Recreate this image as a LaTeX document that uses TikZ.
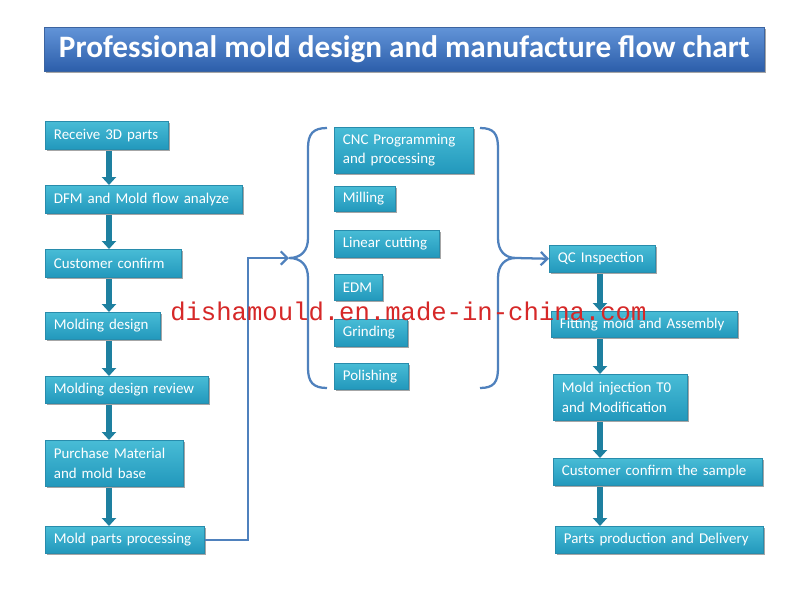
\documentclass[tikz,border=0pt]{standalone}
\usepackage{fontspec}
\setmainfont{Carlito}
\newfontfamily\wmfont{Liberation Mono}
\usetikzlibrary{shadows,arrows.meta}
\definecolor{boxtop}{RGB}{72,188,214}
\definecolor{boxbot}{RGB}{34,152,188}
\definecolor{boxedge}{RGB}{40,140,172}
\definecolor{arrteal}{RGB}{30,128,160}
\definecolor{connblue}{RGB}{79,129,189}
\definecolor{titletop}{RGB}{98,148,216}
\definecolor{titlebot}{RGB}{44,94,170}
\definecolor{wmred}{RGB}{214,40,40}
\tikzset{
  box/.style={rectangle, top color=boxtop, bottom color=boxbot, draw=boxedge, line width=0.4pt,
    drop shadow={shadow xshift=1.6pt, shadow yshift=-1.6pt, fill=black, opacity=0.35},
    text=white, align=left, inner xsep=6.5pt, inner ysep=0pt,
    font=\fontsize{11.2}{14.4}\selectfont},
  varrow/.style={draw=arrteal, line width=3.8pt, -{Triangle[width=10.5pt,length=6pt]}},
  conn/.style={draw=connblue, line width=1.7pt},
  brace/.style={draw=connblue, line width=1.7pt},
}
\newcommand\flowbox[6]{%
  \pgfmathsetmacro\tw{(#4-#2)*0.75-13}%
  \pgfmathsetmacro\bh{(#5-#3)*0.75}%
  \node[box, text width=\tw pt, minimum height=\bh pt, anchor=north west] (#1) at (#2,#3) {#6};}
\begin{document}
\begin{tikzpicture}[x=0.75pt,y=-0.75pt]
\useasboundingbox[fill=white] (0,0) rectangle (800,593);
% title
\node[rectangle, anchor=north west, minimum width=540pt, minimum height=33pt,
  top color=titletop, bottom color=titlebot, draw={rgb,255:red,60;green,100;blue,160},
  drop shadow={shadow xshift=1.6pt, shadow yshift=-1.6pt, fill=black, opacity=0.35},
  text=white, font=\fontsize{23.4}{26}\selectfont\bfseries] (title) at (44,27)
  {Professional mold design and manufacture flow chart};
% left column
\flowbox{b1}{45}{121}{168}{149}{Receive 3D parts}
\flowbox{b2}{45}{185}{242}{213}{DFM and Mold flow analyze}
\flowbox{b3}{45}{249}{181}{277}{Customer confirm}
\flowbox{b4}{45}{312}{160}{339}{Molding design}
\flowbox{b5}{45}{376}{208}{403}{Molding design review}
\flowbox{b6}{45}{440}{183}{486}{Purchase Material\\and mold base}
\flowbox{b7}{45}{526}{204}{553}{Mold parts processing}
% middle column
\flowbox{m1}{334}{127}{473}{173}{CNC Programming\\and processing}
\flowbox{m2}{334}{186}{395}{211}{Milling}
\flowbox{m3}{334}{230}{439}{257}{Linear cutting}
\flowbox{m4}{334}{274}{382}{300}{EDM}
\flowbox{m5}{334}{319}{407}{346}{Grinding}
\flowbox{m6}{334}{363}{408}{389}{Polishing}
% right column
\flowbox{r1}{549}{245}{655}{272}{QC Inspection}
\flowbox{r2}{551}{311}{737}{337}{Fitting mold and Assembly}
\flowbox{r3}{553}{374}{687}{420}{Mold injection  T0\\and Modification}
\flowbox{r4}{553}{458}{762}{485}{Customer confirm the sample}
\flowbox{r5}{555}{526}{763}{553}{Parts production and Delivery}
% vertical arrows
\coordinate (lx) at (109,0);
\coordinate (rx) at (600,0);
\foreach \a/\b in {b1/b2,b2/b3,b3/b4,b4/b5,b5/b6,b6/b7}
  \draw[varrow] ([yshift=-1pt]\a.south -| lx) -- (\b.north -| lx);
\foreach \a/\b in {r1/r2,r2/r3,r3/r4,r4/r5}
  \draw[varrow] ([yshift=-1pt]\a.south -| rx) -- (\b.north -| rx);
% braces
\coordinate (lbtip) at (289,258);
\coordinate (rbtip) at (516,258);
\coordinate (jog) at (248,258);
\draw[brace] (327,128) .. controls (313,128) and (308,134) .. (308,148) -- (308,238)
  .. controls (308,251) and (301,258) .. (lbtip)
  .. controls (301,258) and (308,265) .. (308,278) -- (308,368)
  .. controls (308,382) and (313,388) .. (327,388);
\draw[brace] (480,128) .. controls (494,128) and (498,134) .. (498,148) -- (498,238)
  .. controls (498,251) and (505,258) .. (rbtip)
  .. controls (505,258) and (498,265) .. (498,278) -- (498,368)
  .. controls (498,382) and (494,388) .. (480,388);
% connectors
\draw[conn, -{Straight Barb[length=5pt,width=10pt]}] (b7.east) -| (jog) -- (lbtip);
\draw[conn, -{Straight Barb[length=5pt,width=10pt]}] (rbtip) -- (r1.west);
% watermark
\node[anchor=west, inner sep=0pt, text=wmred, font=\wmfont\fontsize{19.2}{22}\selectfont] (wm) at (170,311)
  {dishamould.en.made-in-china.com};
\end{tikzpicture}
\end{document}
